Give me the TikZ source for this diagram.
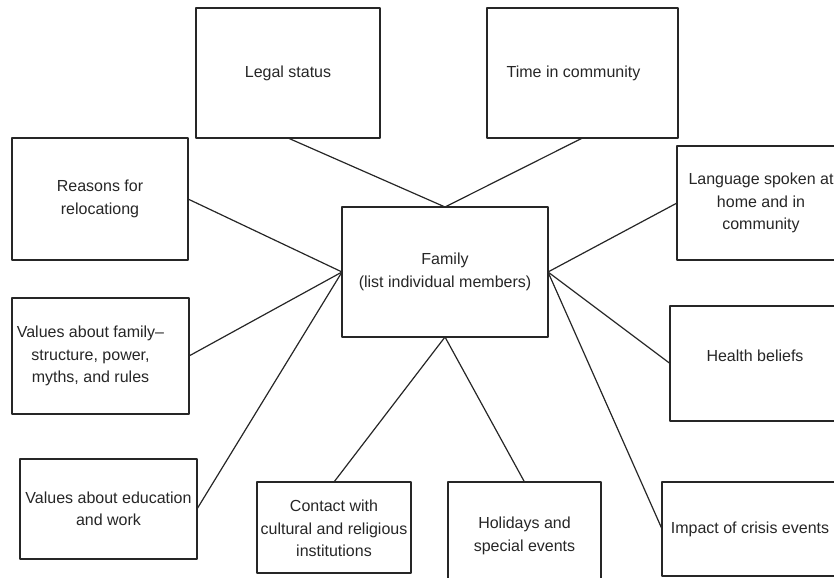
\documentclass[tikz,border=0pt]{standalone}
\usepackage{fontspec}
\setmainfont{Liberation Sans}
\begin{document}
\begin{tikzpicture}[line join=bevel,
  topic/.style={draw=black!85,line width=1.4bp,rectangle,inner sep=1bp,outer sep=0pt,
    align=center,text=black!85,font=\fontsize{16bp}{22.5bp}\selectfont},
  spoke/.style={black!85,line width=1.2bp}]
%%
\useasboundingbox (0bp,0bp) rectangle (834bp,578bp);
\clip (0bp,0bp) rectangle (834bp,578bp);
%%
\node (node_family) at (445bp,306bp) [topic,minimum width=206bp,minimum height=130bp] {Family\\(list individual members)};
  \node (node_legal) at (288bp,505bp) [topic,minimum width=184bp,minimum height=130bp] {Legal status};
  \node (node_time) at (582.5bp,505bp) [topic,minimum width=191bp,minimum height=130bp] {\hspace*{-18bp}Time in community};
  \node (node_reasons) at (100bp,379bp) [topic,minimum width=176bp,minimum height=122bp] {Reasons for\\relocationg};
  \node (node_language) at (761bp,375bp) [topic,minimum width=168bp,minimum height=114bp] {Language spoken at\\home and in\\community};
  \node (node_valfamily) at (100.5bp,222bp) [topic,minimum width=177bp,minimum height=116bp] {\hspace*{-20bp}Values about family--\\\hspace*{-20bp}structure, power,\\\hspace*{-20bp}myths, and rules};
  \node (node_health) at (755bp,214.5bp) [topic,minimum width=170bp,minimum height=115bp] {Health beliefs\\[-6bp]\mbox{}};
  \node (node_valwork) at (108.5bp,69bp) [topic,minimum width=177bp,minimum height=100bp] {Values about education\\and work};
  \node (node_contact) at (334bp,50.5bp) [topic,minimum width=154bp,minimum height=91bp] {\mbox{}\\[-9bp]Contact with\\cultural and religious\\institutions};
  \node (node_holidays) at (524.5bp,42bp) [topic,minimum width=153bp,minimum height=108bp] {Holidays and\\special events};
  \node (node_crisis) at (750bp,49bp) [topic,minimum width=176bp,minimum height=94bp] {Impact of crisis events};
%
  \draw [spoke] (node_legal.south) -- (node_family.north);
  \draw [spoke] (node_time.south) -- (node_family.north);
  \draw [spoke] (node_reasons.east) -- (node_family.west);
  \draw [spoke] (node_valfamily.east) -- (node_family.west);
  \draw [spoke] (node_valwork.east) -- (node_family.west);
  \draw [spoke] (node_contact.north) -- (node_family.south);
  \draw [spoke] (node_holidays.north) -- (node_family.south);
  \draw [spoke] (node_language.west) -- (node_family.east);
  \draw [spoke] (node_health.west) -- (node_family.east);
  \draw [spoke] (node_crisis.west) -- (node_family.east);
%
\end{tikzpicture}
\end{document}
